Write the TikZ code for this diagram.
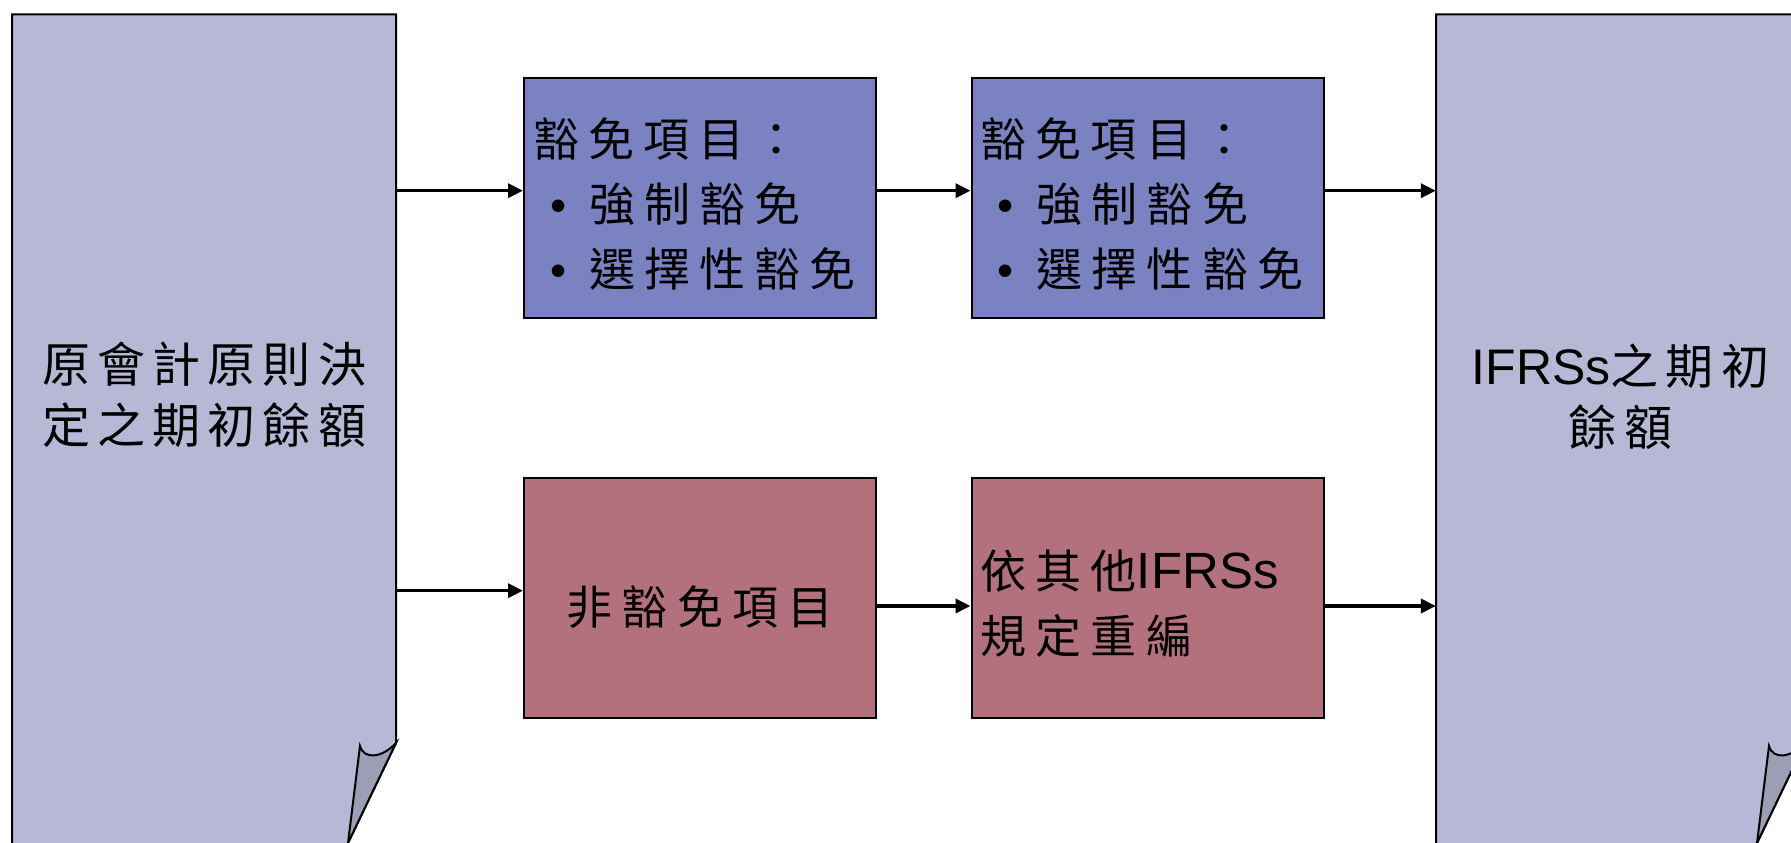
\documentclass[tikz,border=0pt]{standalone}
\usepackage{fontspec}
\setmainfont{Liberation Sans}
\newfontfamily\cjk[LetterSpace=20]{Noto Sans CJK TC}
\newfontfamily\cjkp[LetterSpace=15]{Noto Sans CJK TC}
\usetikzlibrary{arrows.meta}
\definecolor{pagec}{HTML}{B7B8D5}
\definecolor{flapc}{HTML}{9D9EB6}
\definecolor{bluec}{HTML}{7A82C2}
\definecolor{redc}{HTML}{B3717D}
\tikzset{
  pageline/.style={draw=black, line width=2pt, line join=miter},
  pagetext/.style={minimum width=#1, minimum height=761pt, inner sep=0pt, align=center,
    font=\cjkp\fontsize{48}{61}\selectfont},
  boxbase/.style={draw=black, line width=2pt, minimum width=352pt, minimum height=240pt,
    inner xsep=9pt, inner ysep=0pt, text width=334pt,
    font=\cjk\fontsize{46}{65}\selectfont},
  bluebox/.style={boxbase, fill=bluec, align=left},
  redbox/.style={boxbase, fill=redc},
  arr/.style={-{Triangle[length=15pt,width=14pt]}, line width=3.5pt},
}
\newcommand{\bul}{\hspace*{17pt}{\rmfamily •}\hspace*{23pt}}
\begin{document}
\begin{tikzpicture}[x=1pt,y=-1pt]
\useasboundingbox (0,0) rectangle (1791,843);
\clip (0,0) rectangle (1791,843);
% left page
\fill[pagec] (12,14.5) -- (396,14.5) -- (396,743) -- (348,843) -- (12,850) -- cycle;
\draw[pageline] (12,850) -- (12,14.5) -- (396,14.5) -- (396,743) -- (348,843);
\filldraw[fill=flapc, draw=black, line width=2pt, line join=miter]
  (396,743) .. controls (382,758) and (364,760) .. (360,746) -- (348,843) -- cycle;
% right page
\fill[pagec] (1436,14.5) -- (1805,14.5) -- (1805,743) -- (1757,843) -- (1436,850) -- cycle;
\draw[pageline] (1436,850) -- (1436,14.5) -- (1805,14.5) -- (1805,743) -- (1757,843);
\filldraw[fill=flapc, draw=black, line width=2pt, line join=miter]
  (1805,743) .. controls (1791,758) and (1773,760) .. (1769,746) -- (1757,843) -- cycle;
% page texts
\node[pagetext=384pt] (src) at (204,395) {原會計原則決\\定之期初餘額};
\node[pagetext=369pt] (dst) at (1620.5,396.5) {{\rmfamily\fontsize{50}{61}\selectfont IFRSs}之期初\\餘額};
% boxes
\node[bluebox] (a1) at (700,198) {\rule{0pt}{50.5pt}豁免項目：\\\bul 強制豁免\\\bul 選擇性豁免};
\node[bluebox] (a2) at (1147.5,198) {\rule{0pt}{50.5pt}豁免項目：\\\bul 強制豁免\\\bul 選擇性豁免};
\node[redbox, align=center] (b1) at (700,598) {\rule{0pt}{58pt}非豁免項目};
\node[redbox, align=left] (b2) at (1147.5,598) {\rule{0pt}{50.5pt}依其他{\rmfamily\fontsize{51}{65}\selectfont IFRSs}\\規定重編};
% connectors
\coordinate (t1) at ([yshift=7.3pt]a1.west);
\coordinate (t2) at ([yshift=7.3pt]a2.west);
\coordinate (t3) at ([yshift=7.3pt]a2.east);
\coordinate (u1) at ([yshift=7.3pt]b1.west);
\coordinate (u2) at ([yshift=-8pt]b2.west);
\coordinate (u3) at ([yshift=-8pt]b2.east);
\draw[arr] (t1 -| src.east) -- (t1);
\draw[arr] (t2 -| a1.east) -- (t2);
\draw[arr] (t3) -- (t3 -| dst.west);
\draw[arr] (u1 -| src.east) -- (u1);
\draw[arr] (u2 -| b1.east) -- (u2);
\draw[arr] (u3) -- (u3 -| dst.west);
\end{tikzpicture}
\end{document}
